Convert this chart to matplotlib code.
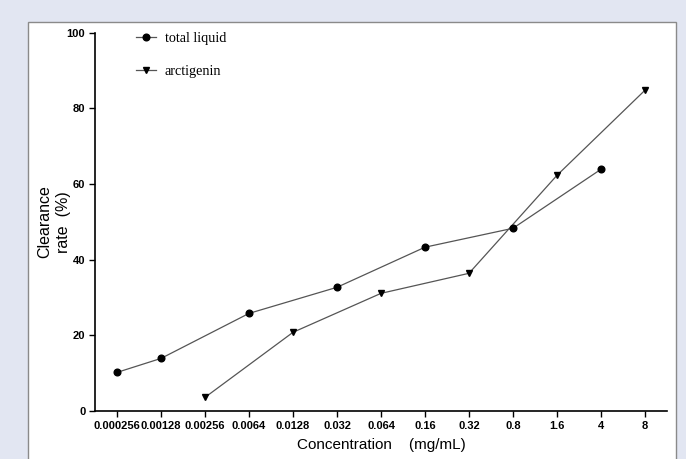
import matplotlib
matplotlib.use("Agg")
import matplotlib.pyplot as plt
from matplotlib.patches import Rectangle
from matplotlib.lines import Line2D

categories = ["0.000256", "0.00128", "0.00256", "0.0064", "0.0128", "0.032",
              "0.064", "0.16", "0.32", "0.8", "1.6", "4", "8"]
total_cats = ["0.000256", "0.00128", "0.0064", "0.032", "0.16", "0.8", "4"]
total_vals = [10.2, 13.9, 25.8, 32.7, 43.3, 48.3, 63.9]
arct_cats = ["0.00256", "0.0128", "0.064", "0.32", "1.6", "8"]
arct_vals = [3.6, 20.8, 31.1, 36.4, 62.3, 84.8]
y_ticks = [0, 20, 40, 60, 80, 100]

fig = plt.figure(figsize=(6.86, 4.59), dpi=100)
fig.patch.set_facecolor("#e2e6f2")
fig.patches.append(Rectangle((28/686, -0.05), (676-28)/686, 1 - 22/459 + 0.05,
                             transform=fig.transFigure, facecolor="white",
                             edgecolor="#8a8a8a", linewidth=1.0, zorder=-10))

ax = fig.add_axes([95/686, 1-411/459, (667-95)/686, (411-32.7)/459])
ax.set_zorder(5)
ax.set_facecolor("none")
idx = {c: i for i, c in enumerate(categories)}
tx = [idx[c] for c in total_cats]
axx = [idx[c] for c in arct_cats]
line_col = "#555555"
ax.plot(tx, total_vals, color=line_col, lw=0.9, zorder=2)
ax.plot(tx, total_vals, 'o', color="black", ms=4.8, zorder=3)
ax.plot(axx, arct_vals, color=line_col, lw=0.9, zorder=2)
ax.plot(axx, arct_vals, 'v', color="black", ms=4.6, zorder=3)

ax.set_xlim(-0.5, 12.5)
ax.set_ylim(0, 100)
ax.set_xticks(range(len(categories)))
ax.set_xticklabels(categories, fontfamily="Liberation Sans", fontweight="bold", fontsize=8)
ax.set_yticks(y_ticks)
ax.set_yticklabels([str(v) for v in y_ticks], fontfamily="Liberation Sans", fontweight="bold", fontsize=8)
for s in ["top", "right"]:
    ax.spines[s].set_visible(False)
for s in ["left", "bottom"]:
    ax.spines[s].set_linewidth(1.2)
ax.tick_params(direction="out", length=4, width=1.0, pad=3)

ax.set_xlabel("Concentration    (mg/mL)", fontfamily="Liberation Sans", fontsize=11, labelpad=5)
ax.set_ylabel("Clearance\nrate  (%)", fontfamily="Liberation Sans", fontsize=11.5, labelpad=-3,
              linespacing=1.3)

handles = [Line2D([], [], color=line_col, lw=0.9, marker='o', markerfacecolor='black',
                  markeredgecolor='black', ms=4.8),
           Line2D([], [], color=line_col, lw=0.9, marker='v', markerfacecolor='black',
                  markeredgecolor='black', ms=4.6)]
leg = ax.legend(handles, ["total liquid", "arctigenin"], loc="upper left",
                bbox_to_anchor=(0.05, 1.035), frameon=False, handlelength=1.4,
                handletextpad=0.6, labelspacing=1.4,
                prop={"family": "Liberation Serif", "size": 10.2})

fig.savefig("out.png", dpi=100, facecolor=fig.get_facecolor())
